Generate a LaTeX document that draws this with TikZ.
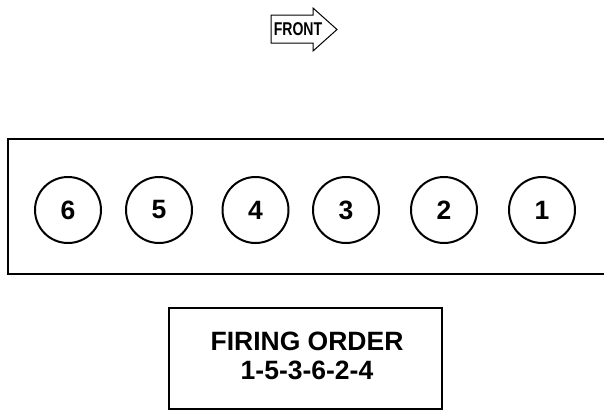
\documentclass[tikz,border=0pt]{standalone}
\usepackage{fontspec}
\setmainfont{Liberation Sans}
\usetikzlibrary{positioning}
\tikzset{
  cylinder/.style={draw,circle,line width=2pt,minimum size=66pt,inner sep=0pt,
    font=\fontsize{26.5}{26.5}\selectfont\bfseries},
  blockline/.style={line width=2.2pt},
  orderbox/.style={draw,line width=1.4pt,minimum width=273pt,minimum height=101pt,inner sep=0pt},
  ordertext/.style={align=center,inner sep=0pt,font=\fontsize{26.5}{29}\selectfont\bfseries},
  frontarrow/.style={draw,line width=1pt,line join=miter},
}

\begin{document}
\begin{tikzpicture}[x=1pt,y=-1pt]
\useasboundingbox (0,0) rectangle (604,410);

% front marker
\draw[frontarrow] (271,15) -- (313,15) -- (313,8) -- (337,29.5) -- (313,51)
  -- (313,43) -- (271,43) -- cycle;
\node[font=\fontsize{18.5}{18.5}\selectfont\bfseries,inner sep=0pt] (front) at (298,29.5)
  {\scalebox{0.76}[1]{FRONT}};

% cylinder block, open on the right
\draw[blockline] (604,139) -- (8,139) -- (8,274) -- (604,274);

\foreach \n/\x in {6/68,5/159,4/255.5,3/346,2/444,1/542}
  \node[cylinder] (cyl\n) at (\x,210) {\n};

% firing order
\node[orderbox] (orderbox) at (305.5,358.5) {};
\node[ordertext] (order) at (307,355.5) {FIRING ORDER\\1-5-3-6-2-4};

\end{tikzpicture}
\end{document}
